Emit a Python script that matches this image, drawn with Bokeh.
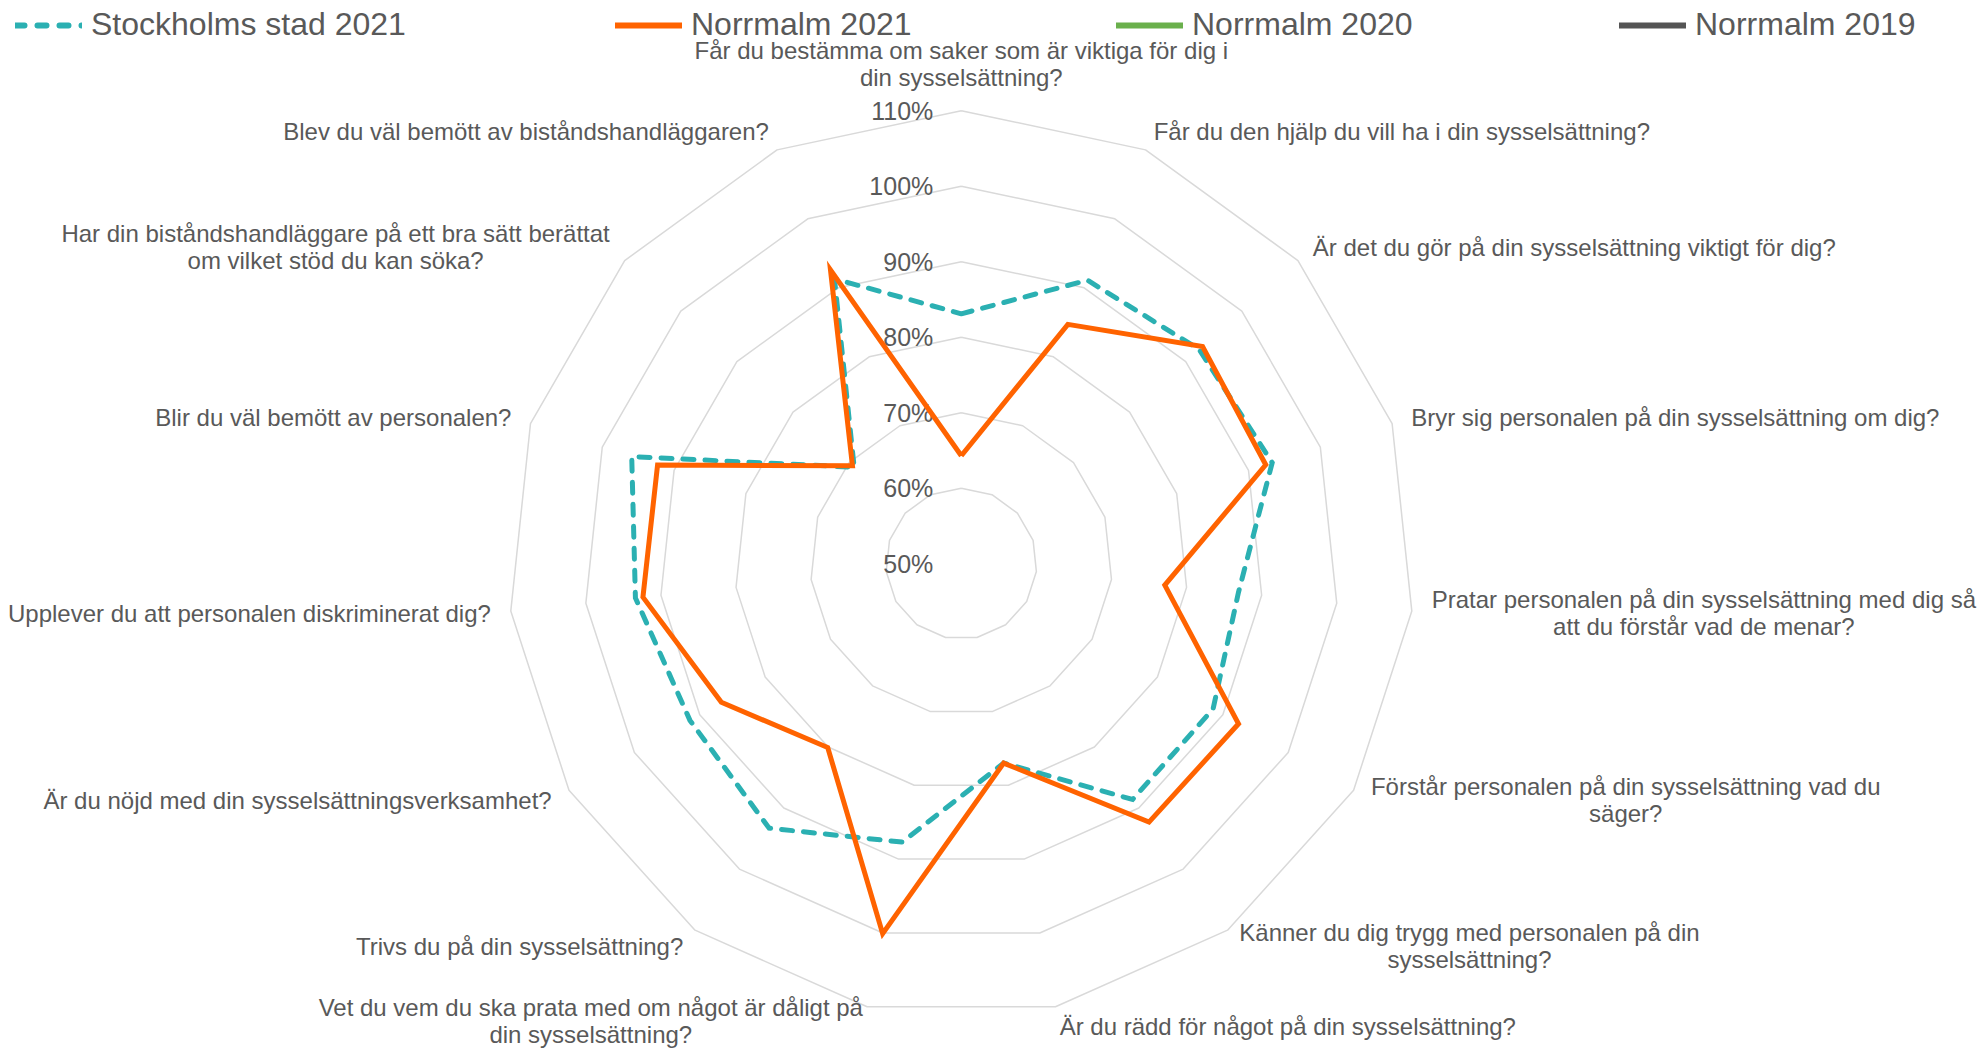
import numpy as np
from bokeh.plotting import figure
from bokeh.models import ColumnDataSource, Range1d, Legend, LegendItem
from bokeh.core.properties import value
from bokeh.embed import file_html
from bokeh.resources import INLINE

# ---------------- data ----------------
categories = [
    "Får du bestämma om saker som är viktiga för dig i\ndin sysselsättning?",
    "Får du den hjälp du vill ha i din sysselsättning?",
    "Är det du gör på din sysselsättning viktigt för dig?",
    "Bryr sig personalen på din sysselsättning om dig?",
    "Pratar personalen på din sysselsättning med dig så\natt du förstår vad de menar?",
    "Förstår personalen på din sysselsättning vad du\nsäger?",
    "Känner du dig trygg med personalen på din\nsysselsättning?",
    "Är du rädd för något på din sysselsättning?",
    "Vet du vem du ska prata med om något är dåligt på\ndin sysselsättning?",
    "Trivs du på din sysselsättning?",
    "Är du nöjd med din sysselsättningsverksamhet?",
    "Upplever du att personalen diskriminerat dig?",
    "Blir du väl bemött av personalen?",
    "Har din biståndshandläggare på ett bra sätt berättat\nom vilket stöd du kan söka?",
    "Blev du väl bemött av biståndshandläggaren?",
]
stockholm_2021 = [83.1, 91.1, 92.4, 93.3, 86.9, 88.5, 88.6, 77.0, 87.7, 93.3, 91.5, 93.4, 95.9, 69.1, 91.3]
norrmalm_2021 = [64.3, 84.7, 93.0, 92.4, 77.1, 92.4, 92.3, 77.0, 100.1, 80.1, 86.7, 92.4, 92.3, 69.4, 92.6]
norrmalm_2020 = []  # no visible values in the reference
norrmalm_2019 = []  # no visible values in the reference
series_names = ["Stockholms stad 2021", "Norrmalm 2021", "Norrmalm 2020", "Norrmalm 2019"]
tick_values = [50, 60, 70, 80, 90, 100, 110]
tick_labels = ["50%", "60%", "70%", "80%", "90%", "100%", "110%"]

# ---------------- layout ----------------
W, H = 1980, 1051
PX = 7.55                 # pixels per percentage point of radius
CX, CY = 960.8, 563.2     # centre in canvas pixels
R_MIN = tick_values[0]
R_MAX = tick_values[-1] - R_MIN

p = figure(width=W, height=H, output_backend="svg", toolbar_location=None,
           x_range=Range1d(-CX / PX, (W - CX) / PX),
           y_range=Range1d(-(H - CY) / PX, CY / PX),
           min_border=0, x_axis_location=None, y_axis_location=None)
p.outline_line_color = None
p.xgrid.visible = False
p.ygrid.visible = False
p.background_fill_color = "white"

n = len(categories)
theta = np.arange(n) * 2 * np.pi / n


def polar(vals):
    r = np.asarray(vals, dtype=float) - R_MIN
    xs = r * np.sin(theta[:len(r)])
    ys = r * np.cos(theta[:len(r)])
    return list(xs) + [xs[0]], list(ys) + [ys[0]]


# grid rings
for tv in tick_values[1:]:
    gx, gy = polar([tv] * n)
    p.line(gx, gy, line_color="#d9d9d9", line_width=1.5)

# radial tick labels
tick_src = ColumnDataSource(dict(x=[-28 / PX] * len(tick_values),
                                 y=[t - R_MIN for t in tick_values],
                                 t=tick_labels))
p.text("x", "y", text="t", source=tick_src, text_font=value("Liberation Sans"),
       text_font_size="25px", text_color="#595959", text_align="right",
       text_baseline="middle")

# category labels
off = 20 / PX
lab_r = R_MAX + off
lx = lab_r * np.sin(theta)
ly = lab_r * np.cos(theta)
anchors, aligns, yoffs = [], [], []
for k in range(n):
    deg = k * 360 / n
    if k == 0:
        anchors.append("bottom_center")
    elif deg < 180:
        anchors.append("center_left")
    else:
        anchors.append("center_right")
    aligns.append("center")
    yoffs.append(-5 if k == 8 else 0)
lab_src = ColumnDataSource(dict(x=lx, y=ly, t=categories, anchor=anchors,
                                align=aligns, yoff=yoffs))
p.text("x", "y", text="t", source=lab_src, anchor="anchor", text_align="align",
       y_offset="yoff", text_font=value("Liberation Sans"), text_font_size="24px",
       text_color="#595959", text_line_height=1.0)

# series
sx, sy = polar(stockholm_2021)
p.line(sx, sy, line_color="#2bb0b2", line_width=5, line_dash="11 11",
       line_cap="round", line_join="miter")
nx, ny = polar(norrmalm_2021)
p.line(nx, ny, line_color="#ff6300", line_width=5, line_join="miter")

# legend proxies (styled like the reference legend)
colors = ["#2bb0b2", "#ff6300", "#6ab04c", "#555555"]
dashes = ["9 13", "solid", "solid", "solid"]
leg_x = [15, 615, 1116, 1619]
for name, col, dsh, lx0 in zip(series_names, colors, dashes, leg_x):
    rr = p.line([np.nan], [np.nan], line_color=col, line_width=6, line_dash=dsh,
                line_cap="round")
    leg = Legend(items=[LegendItem(label=name, renderers=[rr])], location=(lx0, 1008),
                 orientation="horizontal", glyph_width=67, glyph_height=36,
                 label_height=36, label_standoff=9, padding=0, margin=0, spacing=0,
                 border_line_color=None, background_fill_alpha=0,
                 label_text_font="Liberation Sans", label_text_font_size="32px",
                 label_text_color="#595959", label_text_baseline="middle")
    p.add_layout(leg)

open("out.html", "w").write(file_html(p, INLINE))
